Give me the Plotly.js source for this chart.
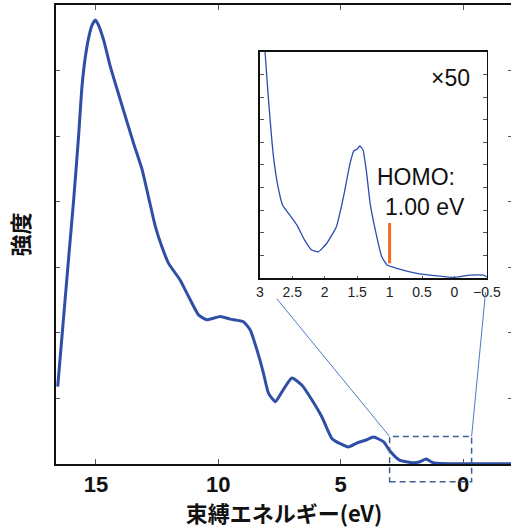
<!DOCTYPE html>
<html>
<head>
<meta charset="utf-8">
<script src="https://cdn.plot.ly/plotly-3.0.1.min.js"></script>
<style>
html,body{margin:0;padding:0;overflow:hidden;background:#fff;}
#chart{width:512px;height:528px;}
</style>
</head>
<body>
<div id="chart"></div>
<script>
// Main spectrum (binding energy eV, intensity arb.)
const mainX = [16.56,16.11,15.91,15.70,15.57,15.43,15.29,15.16,15.02,14.89,14.68,14.41,14.0,13.46,13.12,12.85,12.57,12.30,12.03,11.55,11.14,10.80,10.46,9.92,9.51,8.97,8.69,8.42,8.15,7.95,7.67,7.40,6.99,6.58,6.18,5.77,5.36,5.02,4.68,4.34,3.93,3.66,3.25,3.01,2.60,2.05,1.76,1.51,1.28,1.10,0.5,-0.5,-1.0,-2.0];
const mainY = [1.18,3.16,4.02,5.04,5.75,6.21,6.51,6.69,6.77,6.69,6.46,6.06,5.55,4.89,4.50,4.07,3.62,3.31,3.06,2.80,2.50,2.27,2.20,2.25,2.21,2.17,2.04,1.74,1.38,1.08,0.95,1.10,1.31,1.20,0.98,0.72,0.39,0.31,0.26,0.32,0.37,0.41,0.34,0.21,0.06,0.02,0.035,0.075,0.03,0.01,0.005,0.005,0.005,0.005];

// Inset (x50 magnified)
const insetX = [2.95,2.92,2.87,2.79,2.72,2.65,2.54,2.43,2.31,2.20,2.10,1.97,1.82,1.71,1.61,1.55,1.50,1.46,1.41,1.36,1.30,1.22,1.12,1.04,0.89,0.58,0.27,0.01,-0.24,-0.45,-0.5];
const insetY = [11,10,8.02,5.37,4.04,3.23,2.79,2.35,1.68,1.24,1.16,1.53,2.27,3.60,5.07,5.63,5.69,5.84,5.66,4.78,3.30,2.12,0.94,0.58,0.43,0.21,0.10,0.03,0.13,0.13,0.05];

// HOMO marker
const homoX = [1.0, 1.0];
const homoY = [0.66, 2.43];

// Zoom box in main axis units
const boxX = [3.0, -0.35];
const boxY = [-0.27, 0.42];

const mainTicks = [15, 10, 5, 0];
const mainTickText = ['15', '10', '5', '0'];
const insetTicks = [3, 2.5, 2, 1.5, 1, 0.5, 0, -0.5];
const insetTickText = ['3', '2.5', '2', '1.5', '1', '0.5', '0', '\u22120.5'];

const xr = [16.63, -2.0];
const yr = [0, 7];
const x2dom = [0.447, 0.945];
const y2dom = [0.405, 0.898];

function px(x){ return (x - xr[0]) / (xr[1] - xr[0]); }
function py(y){ return (y - yr[0]) / (yr[1] - yr[0]); }

const traces = [
  {x: mainX, y: mainY, type: 'scatter', mode: 'lines',
   line: {color: '#2f4fa6', width: 3, shape: 'spline', smoothing: 0.5},
   xaxis: 'x', yaxis: 'y', hoverinfo: 'skip'},
  {x: insetX, y: insetY, type: 'scatter', mode: 'lines',
   line: {color: '#2c4db0', width: 1.3, shape: 'spline', smoothing: 0.4},
   xaxis: 'x2', yaxis: 'y2', hoverinfo: 'skip'},
  {x: homoX, y: homoY, type: 'scatter', mode: 'lines',
   line: {color: '#f26b21', width: 3},
   xaxis: 'x2', yaxis: 'y2', hoverinfo: 'skip'}
];

const bx0 = px(boxX[0]), bx1 = px(boxX[1]);
const by0 = py(boxY[0]), by1 = py(boxY[1]);
const fl = 0.87, fr = 0.91;

const shapes = [
  {type: 'rect', xref: 'paper', yref: 'paper', x0: bx0, x1: bx1, y0: by0, y1: by1,
   line: {color: '#3d5f95', width: 1.5, dash: '6px,4px'}, fillcolor: 'rgba(0,0,0,0)'},
  {type: 'line', xref: 'paper', yref: 'paper', x0: bx0, y0: by1,
   x1: bx0 + fl * (x2dom[0] - bx0), y1: by1 + fl * (y2dom[0] - by1),
   line: {color: '#4a7bc6', width: 1}},
  {type: 'line', xref: 'paper', yref: 'paper', x0: bx1, y0: by1,
   x1: bx1 + fr * (x2dom[1] - bx1), y1: by1 + fr * (y2dom[0] - by1),
   line: {color: '#4a7bc6', width: 1}}
];

const annFont = {family: 'Arial, Liberation Sans, sans-serif', size: 23, color: '#111'};
const annotations = [
  {xref: 'x2', yref: 'y2', x: 0.40, y: 8.85, text: '\u00d750', showarrow: false, xanchor: 'left', yanchor: 'middle', font: annFont},
  {xref: 'x2', yref: 'y2', x: 1.22, y: 4.47, text: 'HOMO:', showarrow: false, xanchor: 'left', yanchor: 'middle', font: annFont},
  {xref: 'x2', yref: 'y2', x: 1.10, y: 3.14, text: '1.00 eV', showarrow: false, xanchor: 'left', yanchor: 'middle', font: annFont}
];

const layout = {
  width: 512, height: 528,
  margin: {l: 56, r: 0, t: 5, b: 64},
  paper_bgcolor: '#fff', plot_bgcolor: '#fff',
  showlegend: false,
  xaxis: {
    range: xr, tickmode: 'array', tickvals: mainTicks, ticktext: mainTickText,
    ticks: 'inside', ticklen: 5, tickwidth: 1, tickcolor: '#555',
    showline: true, linecolor: '#111', linewidth: 2, mirror: 'ticks',
    showgrid: false, zeroline: false, ticklabelstandoff: 0,
    tickfont: {family: 'Liberation Sans, Arial, sans-serif', size: 22, color: '#111', weight: 'bold'},
    title: {text: '束縛エネルギー(eV)', standoff: 7,
      font: {family: 'Noto Sans CJK JP, sans-serif', size: 22, color: '#111', weight: 'bold'}}
  },
  yaxis: {
    range: yr, dtick: 1, tick0: 0, showticklabels: false,
    ticks: 'inside', ticklen: 4, tickwidth: 1, tickcolor: '#555',
    showline: true, linecolor: '#111', linewidth: 2, mirror: 'ticks',
    showgrid: false, zeroline: false,
    title: {text: '強度', standoff: 18,
      font: {family: 'Noto Sans CJK JP, sans-serif', size: 22, color: '#111', weight: 'bold'}}
  },
  xaxis2: {
    domain: x2dom, anchor: 'y2', range: [3, -0.5],
    tickmode: 'array', tickvals: insetTicks, ticktext: insetTickText,
    ticks: 'inside', ticklen: 2, tickwidth: 1, tickcolor: '#555',
    showline: true, linecolor: '#111', linewidth: 1.5, mirror: true,
    showgrid: false, zeroline: false, ticklabelstandoff: 1,
    tickfont: {family: 'Liberation Sans, Arial, sans-serif', size: 14, color: '#222'}
  },
  yaxis2: {
    domain: y2dom, anchor: 'x2', range: [0, 10], dtick: 1, tick0: 0,
    showticklabels: false, ticks: 'inside', ticklen: 4, tickwidth: 1, tickcolor: '#555',
    showline: true, linecolor: '#111', linewidth: 1.5, mirror: 'ticks',
    showgrid: false, zeroline: false
  },
  shapes: shapes,
  annotations: annotations
};

Plotly.newPlot('chart', traces, layout, {staticPlot: true, displayModeBar: false});
</script>
</body>
</html>
